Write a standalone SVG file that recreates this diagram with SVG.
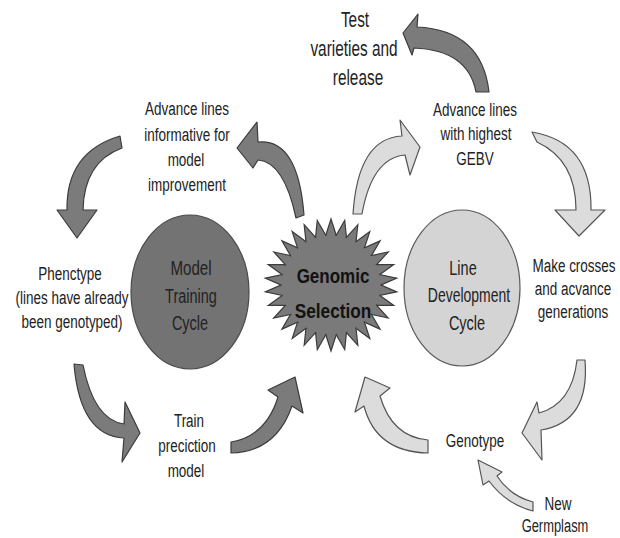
<svg xmlns="http://www.w3.org/2000/svg" xmlns:xlink="http://www.w3.org/1999/xlink" width="620" height="538" viewBox="0 0 620 538">
<style>
text{font-family:"Liberation Sans",Arial,sans-serif;fill:#222;text-anchor:middle}
.s19{font-size:19px}
.s21{font-size:21px}
.s22{font-size:22px}
.bold{font-weight:bold;fill:#111}
.dark{fill:#7b7b7b;stroke:#3c3c3c;stroke-width:1.2;stroke-linejoin:round}
.light{fill:#dcdcdc;stroke:#555;stroke-width:1.2;stroke-linejoin:round}
</style>
<defs>
<path id="spike" d="M0,-66 L8.36,-40 L-8.36,-40 Z" fill="#7a7a7a" stroke="#3c3c3c" stroke-width="1.2" stroke-linejoin="miter"/>
</defs>
<rect width="620" height="538" fill="#fff"/>

<g id="connectors">
<path class="dark" d="M 304 215 Q 298 138 258 142 L 257 122 L 237 148 L 253 168 L 258 160 Q 284 162 296 218 Z"/>
<path class="dark" d="M 120 136 Q 66 152 67 210 L 57 210 L 77 238 L 97 210 L 83 210 Q 84 162 122 148 Z"/>
<path class="dark" d="M 74 364 Q 80 436 124 438 L 122 462 L 140 433 L 125 402 L 124 424 Q 94 420 83 365 Z"/>
<path class="dark" d="M 231 453 Q 276 452 292 406 L 303 413 L 295 377 L 268 390 L 278 397 Q 266 436 231 442 Z"/>
<path class="dark" d="M 489 92 Q 482 30 417 27 L 418 14 L 403 33 L 412 55 L 414 48 Q 468 50 476 92 Z"/>
<path class="light" d="M 353 214 Q 358 138 402 136 L 400 120 L 420 147 L 410 175 L 405 155 Q 372 158 362 214 Z"/>
<path class="light" d="M 532 132 Q 592 142 591 210 L 605 210 L 579 236 L 555 210 L 576 210 Q 576 160 537 142 Z"/>
<path class="light" d="M 585 360 Q 590 422 541 430 L 542 460 L 522 433 L 537 402 L 539 413 Q 572 404 577 360 Z"/>
<path class="light" d="M 428 453 Q 376 452 364 406 L 355 412 L 365 377 L 390 388 L 380 396 Q 392 437 428 440 Z"/>
<path class="light" d="M 533 502 Q 510 496 497 476 L 502 472 L 478 460 L 483 485 L 489 481 Q 506 504 533 511 Z"/>
</g>

<g id="model-training-cycle">
<ellipse cx="190" cy="292" rx="59" ry="77" fill="#737373" stroke="#4a4a4a" stroke-width="1.2"/>
<text class="s21" transform="matrix(0.72 0 0 1 191 0)" y="275">Model</text>
<text class="s21" transform="matrix(0.69 0 0 1 191 0)" y="303">Training</text>
<text class="s21" transform="matrix(0.69 0 0 1 190 0)" y="330">Cycle</text>
</g>

<g id="line-development-cycle">
<ellipse cx="462" cy="288" rx="58" ry="78" fill="#d4d4d4" stroke="#5a5a5a" stroke-width="1.2"/>
<text class="s21" transform="matrix(0.69 0 0 1 463 0)" y="275">Line</text>
<text class="s21" transform="matrix(0.665 0 0 1 469 0)" y="302">Development</text>
<text class="s21" transform="matrix(0.69 0 0 1 467 0)" y="330">Cycle</text>
</g>

<g id="genomic-selection">
<g transform="translate(331,285)">
<use xlink:href="#spike" transform="rotate(0)"/>
<use xlink:href="#spike" transform="rotate(12)"/>
<use xlink:href="#spike" transform="rotate(24)"/>
<use xlink:href="#spike" transform="rotate(36)"/>
<use xlink:href="#spike" transform="rotate(48)"/>
<use xlink:href="#spike" transform="rotate(60)"/>
<use xlink:href="#spike" transform="rotate(72)"/>
<use xlink:href="#spike" transform="rotate(84)"/>
<use xlink:href="#spike" transform="rotate(96)"/>
<use xlink:href="#spike" transform="rotate(108)"/>
<use xlink:href="#spike" transform="rotate(120)"/>
<use xlink:href="#spike" transform="rotate(132)"/>
<use xlink:href="#spike" transform="rotate(144)"/>
<use xlink:href="#spike" transform="rotate(156)"/>
<use xlink:href="#spike" transform="rotate(168)"/>
<use xlink:href="#spike" transform="rotate(180)"/>
<use xlink:href="#spike" transform="rotate(192)"/>
<use xlink:href="#spike" transform="rotate(204)"/>
<use xlink:href="#spike" transform="rotate(216)"/>
<use xlink:href="#spike" transform="rotate(228)"/>
<use xlink:href="#spike" transform="rotate(240)"/>
<use xlink:href="#spike" transform="rotate(252)"/>
<use xlink:href="#spike" transform="rotate(264)"/>
<use xlink:href="#spike" transform="rotate(276)"/>
<use xlink:href="#spike" transform="rotate(288)"/>
<use xlink:href="#spike" transform="rotate(300)"/>
<use xlink:href="#spike" transform="rotate(312)"/>
<use xlink:href="#spike" transform="rotate(324)"/>
<use xlink:href="#spike" transform="rotate(336)"/>
<use xlink:href="#spike" transform="rotate(348)"/>
<circle r="49.3" fill="#7a7a7a"/>
</g>
<text class="s21 bold" transform="matrix(0.81 0 0 1 333 0)" y="283">Genomic</text>
<text class="s21 bold" transform="matrix(0.82 0 0 1 333 0)" y="318">Selection</text>
</g>

<g id="test-varieties">
<text class="s22" transform="matrix(0.70 0 0 1 355 0)" y="27">Test</text>
<text class="s22" transform="matrix(0.70 0 0 1 354 0)" y="56">varieties and</text>
<text class="s22" transform="matrix(0.70 0 0 1 358 0)" y="85">release</text>
</g>

<g id="advance-lines-gebv">
<text class="s19" transform="matrix(0.71 0 0 1 475 0)" y="116">Advance lines</text>
<text class="s19" transform="matrix(0.71 0 0 1 476 0)" y="140">with highest</text>
<text class="s19" transform="matrix(0.71 0 0 1 475 0)" y="165">GEBV</text>
</g>

<g id="advance-lines-informative">
<text class="s19" transform="matrix(0.71 0 0 1 187 0)" y="115">Advance lines</text>
<text class="s19" transform="matrix(0.71 0 0 1 187 0)" y="141">informative for</text>
<text class="s19" transform="matrix(0.71 0 0 1 186 0)" y="166">model</text>
<text class="s19" transform="matrix(0.71 0 0 1 187 0)" y="191">improvement</text>
</g>

<g id="phenotype">
<text class="s19" transform="matrix(0.71 0 0 1 70 0)" y="280">Phenctype</text>
<text class="s19" transform="matrix(0.71 0 0 1 72 0)" y="304">(lines have already</text>
<text class="s19" transform="matrix(0.71 0 0 1 72 0)" y="328">been genotyped)</text>
</g>

<g id="make-crosses">
<text class="s19" transform="matrix(0.71 0 0 1 574 0)" y="272">Make crosses</text>
<text class="s19" transform="matrix(0.71 0 0 1 573 0)" y="295">and acvance</text>
<text class="s19" transform="matrix(0.71 0 0 1 573 0)" y="318">generations</text>
</g>

<g id="train-model">
<text class="s19" transform="matrix(0.71 0 0 1 189 0)" y="427">Train</text>
<text class="s19" transform="matrix(0.71 0 0 1 187 0)" y="452">preciction</text>
<text class="s19" transform="matrix(0.71 0 0 1 186 0)" y="477">model</text>
</g>

<g id="genotype">
<text class="s19" transform="matrix(0.71 0 0 1 475 0)" y="447">Genotype</text>
</g>

<g id="new-germplasm">
<text class="s19" transform="matrix(0.71 0 0 1 558 0)" y="510">New</text>
<text class="s19" transform="matrix(0.68 0 0 1 555 0)" y="532">Germplasm</text>
</g>
</svg>
